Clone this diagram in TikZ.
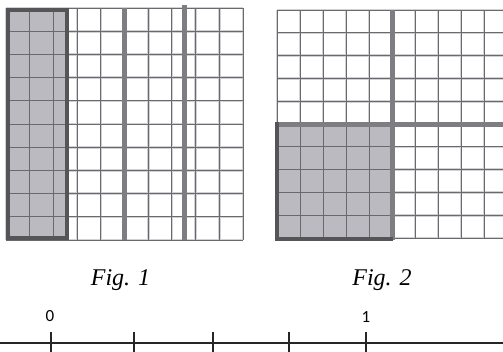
\documentclass[tikz,border=0pt]{standalone}
\usepackage{fontspec}
\setmainfont{Liberation Serif}
\newfontfamily\numfont{Carlito}
\definecolor{cellfill}{RGB}{186,186,192}
\definecolor{cellline}{RGB}{105,105,110}
\definecolor{cellhalo}{RGB}{210,210,214}
\definecolor{partline}{RGB}{125,125,130}
\definecolor{partrim}{RGB}{85,85,88}
\newcommand{\figfont}{\fontsize{24}{28}\selectfont\itshape}
\newcommand{\digfont}{\numfont\fontsize{17}{20}\selectfont}

\begin{document}
\begin{tikzpicture}[x=1pt,y=-1pt,
halo/.style={draw=cellhalo,line width=2.6pt},
cell/.style={draw=cellline,line width=0.9pt},
quarterline/.style={draw=partline,line width=5pt},
rimline/.style={draw=partrim,line width=4pt},
tickmark/.style={draw=black!85,line width=2pt}]
\useasboundingbox (0,0) rectangle (503,351);
\clip (0,0) rectangle (503,351);
%figure 1
\foreach \i in {0,...,10}{
\draw[halo] ({6+23.7*\i},8) -- ++(0,232);
\draw[halo] (6,{8+23.2*\i}) -- ++(237,0);
}
\fill[cellfill] (6,9) rectangle (67,239);
\foreach \i in {0,...,10}{
\draw[cell] ({6+23.7*\i},8) -- ++(0,232);
\draw[cell] (6,{8+23.2*\i}) -- ++(237,0);
}
\draw[quarterline] (124.5,8) -- (124.5,240);
\draw[quarterline] (184,5) -- (184,240);
\draw[rimline] (8,10) rectangle (67,238);
%figure 2
\foreach \i in {0,...,10}{
\draw[halo] ({277+23*\i},10) -- ++(0,228);
\draw[halo] (277,{10+22.8*\i}) -- ++(230,0);
}
\fill[cellfill] (277,124) rectangle (392,238);
\foreach \i in {0,...,10}{
\draw[cell] ({277+23*\i},10) -- ++(0,228);
\draw[cell] (277,{10+22.8*\i}) -- ++(230,0);
}
\draw[quarterline] (392,10) -- (392,240);
\draw[quarterline] (277,124) -- (507,124);
\draw[rimline] (277,122) -- (277,239) -- (393,239);
\node[anchor=base,font=\figfont] (fig1) at (120.5,285) {Fig. 1};
\node[anchor=base,font=\figfont] (fig2) at (382,285) {Fig. 2};
%number line
\coordinate (lend) at (0,343);
\coordinate (rend) at (503,343);
\draw[line width=2.8pt,black!85] (lend) -- (rend);
\foreach \x [count=\n from 0] in {51,134,213,289,366}{
\coordinate (t\n) at (\x,343);
\draw[tickmark] ([yshift=11pt]t\n) -- ([yshift=-11pt]t\n);
}
\node[anchor=base,font=\digfont] (zero) at (50,321) {0};
\node[anchor=base,font=\digfont] (one) at (366,322) {1};
\end{tikzpicture}
\end{document}
